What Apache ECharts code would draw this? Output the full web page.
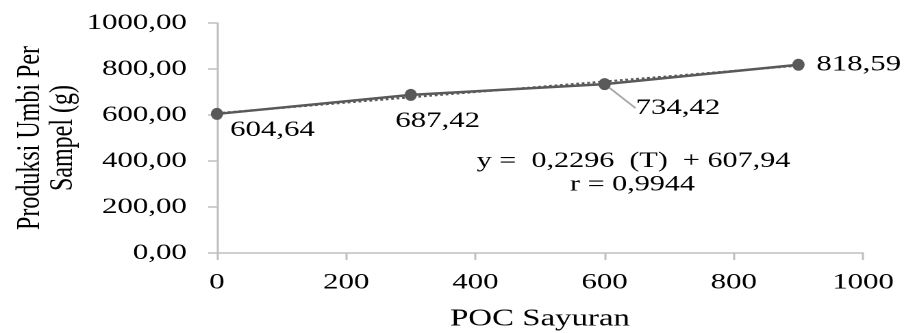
<!DOCTYPE html>
<html>
<head>
<meta charset="utf-8">
<script src="https://cdn.jsdelivr.net/npm/echarts@6/dist/echarts.min.js"></script>
<style>
  html, body { margin: 0; padding: 0; background: #fff; overflow: hidden; }
  #wrap { width: 904px; height: 333px; overflow: hidden; }
  #chart { width: 660px; height: 333px; transform: scaleX(1.369697); transform-origin: 0 0; }
</style>
</head>
<body>
<div id="wrap"><div id="chart"></div></div>
<script>
// ---- data ----
const pocX = [0, 300, 600, 900];
const produksi = [604.64, 687.42, 734.42, 818.59];
const trendX = [0, 900];
const trendY = [607.94, 814.58];
const xTicks = [0, 200, 400, 600, 800, 1000];
const yTicks = [0, 200, 400, 600, 800, 1000];
const equationLines = ['y =  0,2296  (T)  + 607,94', 'r = 0,9944'];
const xName = 'POC Sayuran';
const yName = 'Produksi Umbi Per\nSampel (g)';

// label offsets (layout only)
const labelOffsets = [[40.5, 16], [19.7, 26], [53.5, 24], [44, 0]];

const FONT = '"Liberation Serif", "Times New Roman", serif';
const fmt = v => v.toFixed(2).replace('.', ',');

const chart = echarts.init(document.getElementById('chart'), null, { renderer: 'canvas', devicePixelRatio: 2 });

const mainData = pocX.map((x, i) => ({
  value: [x, produksi[i]],
  labelLine: { show: i === 2, lineStyle: { color: '#a6a6a6', width: 1.5 } }
}));

chart.setOption({
  animation: false,
  backgroundColor: '#ffffff',
  grid: { left: 158.4, right: 29.9, top: 23, bottom: 80, containLabel: false, outerBoundsMode: 'none' },
  xAxis: {
    type: 'value', min: xTicks[0], max: xTicks[xTicks.length - 1], interval: xTicks[1] - xTicks[0],
    name: xName, nameLocation: 'middle', nameGap: 54, nameMoveOverlap: false,
    nameTextStyle: { fontFamily: FONT, fontSize: 24, color: '#000' },
    axisLine: { show: true, onZero: false, lineStyle: { color: '#bfbfbf', width: 1.5 } },
    axisTick: { show: true, inside: false, length: 7, lineStyle: { color: '#bfbfbf', width: 1.5 } },
    axisLabel: { fontFamily: FONT, fontSize: 22.5, color: '#000', margin: 18, formatter: v => String(v) },
    splitLine: { show: false }
  },
  yAxis: {
    type: 'value', min: yTicks[0], max: yTicks[yTicks.length - 1], interval: yTicks[1] - yTicks[0],
    name: yName, nameLocation: 'middle', nameGap: 100, nameRotate: 90, nameMoveOverlap: false,
    nameTextStyle: { fontFamily: FONT, fontSize: 24, color: '#000', lineHeight: 24, align: 'center' },
    axisLine: { show: true, onZero: false, lineStyle: { color: '#bfbfbf', width: 1.5 } },
    axisTick: { show: true, inside: false, length: 6.5, lineStyle: { color: '#bfbfbf', width: 1.5 } },
    axisLabel: { fontFamily: FONT, fontSize: 22.5, color: '#000', margin: 22, formatter: v => fmt(v) },
    splitLine: { show: false }
  },
  series: [
    {
      type: 'line', name: 'trend', z: 1,
      data: trendX.map((x, i) => [x, trendY[i]]),
      showSymbol: false, symbol: 'none',
      lineStyle: { color: '#595959', width: 2, type: 'dotted' },
      silent: true
    },
    {
      type: 'line', name: 'Produksi', z: 3,
      data: mainData,
      symbol: 'circle', symbolSize: [9, 12],
      itemStyle: { color: '#595959' },
      lineStyle: { color: '#595959', width: 2.5 },
      label: {
        show: true, position: 'inside',
        fontFamily: FONT, fontSize: 22.5, color: '#000',
        formatter: p => fmt(p.value[1])
      },
      labelLine: { show: false },
      labelLayout: p => ({ dx: labelOffsets[p.dataIndex][0], dy: labelOffsets[p.dataIndex][1] })
    }
  ],
  graphic: [
    { type: 'text', x: 462.5, y: 161, z: 10,
      style: { text: equationLines[0], fontFamily: FONT, fontSize: 22, fill: '#000', textAlign: 'center', textVerticalAlign: 'middle' } },
    { type: 'text', x: 461.8, y: 184.5, z: 10,
      style: { text: equationLines[1], fontFamily: FONT, fontSize: 22, fill: '#000', textAlign: 'center', textVerticalAlign: 'middle' } }
  ]
});
</script>
</body>
</html>
